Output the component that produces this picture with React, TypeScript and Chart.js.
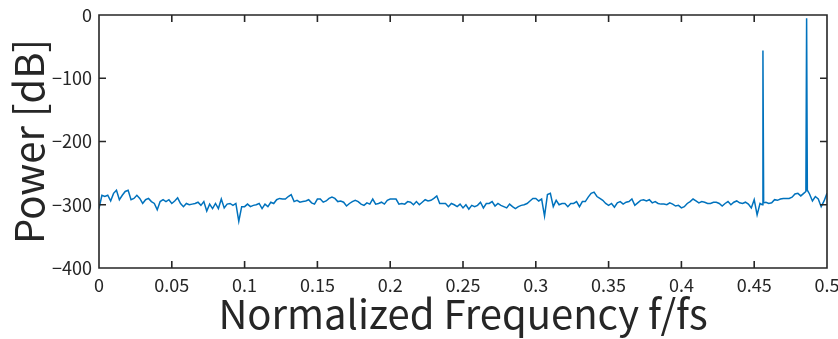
import React, { useEffect, useRef } from "react";
import { Chart, registerables } from "chart.js";

Chart.register(...registerables);

// Frequency grid step (normalized frequency)
const FREQ_STEP = 0.002;

// Power [dB], f = 0 ... 0.098
const powerA = [
  -306, -285, -287, -285, -294, -282, -277, -292, -285, -279,
  -277, -292, -290, -285, -290, -298, -292, -290, -295, -298,
  -308, -295, -292, -295, -292, -298, -294, -289, -298, -303,
  -298, -300, -299, -298, -296, -301, -295, -310, -299, -306,
  -298, -306, -291, -305, -299, -298, -301, -298, -326, -303,
];
// f = 0.100 ... 0.200
const powerB = [
  -303, -299, -303, -301, -300, -298, -306, -299, -303, -296,
  -298, -292, -290, -291, -291, -287, -284, -295, -293, -296,
  -295, -294, -292, -297, -299, -291, -291, -296, -294, -290,
  -288, -290, -295, -294, -296, -302, -298, -295, -293, -295,
  -299, -301, -297, -299, -291, -299, -298, -296, -299, -293,
  -291,
];
// f = 0.202 ... 0.300
const powerC = [
  -291, -291, -299, -298, -299, -295, -296, -300, -295, -300,
  -296, -292, -294, -293, -290, -286, -298, -298, -298, -303,
  -298, -300, -303, -299, -305, -300, -307, -301, -303, -301,
  -296, -305, -298, -298, -295, -302, -298, -301, -303, -305,
  -299, -303, -306, -303, -301, -300, -298, -294, -290, -290,
];
// f = 0.302 ... 0.400
const powerD = [
  -294, -291, -318, -284, -282, -303, -293, -300, -298, -298,
  -303, -298, -298, -295, -303, -295, -295, -288, -282, -280,
  -287, -290, -293, -298, -301, -298, -304, -297, -295, -299,
  -296, -295, -291, -301, -297, -293, -292, -294, -292, -297,
  -295, -298, -299, -299, -300, -297, -299, -302, -301, -305,
];
// f = 0.402 ... 0.500 (tones at 0.456 and 0.486)
const powerE = [
  -303, -298, -295, -291, -294, -297, -295, -296, -298, -298,
  -296, -296, -298, -302, -298, -295, -300, -296, -294, -297,
  -298, -296, -299, -305, -292, -316, -298, -56, -296, -298,
  -297, -292, -293, -291, -290, -290, -290, -288, -283, -282,
  -286, -282, -5, -283, -294, -287, -291, -303, -294, -282,
];

// Narrow base points on either side of the two tones
const shoulderFreq = [0.4555, 0.4565, 0.4855, 0.4865];
const shoulderPower = [-300, -297, -279, -277];

const xTickValues = [0, 0.05, 0.1, 0.15, 0.2, 0.25, 0.3, 0.35, 0.4, 0.45, 0.5];
const yTickValues = [0, -100, -200, -300, -400];

const AXIS_COLOR = "#262626";
const LINE_COLOR = "#0072BD";
const FONT = "'Noto Sans CJK JP', 'Noto Sans', sans-serif";

function buildPoints() {
  const all = [...powerA, ...powerB, ...powerC, ...powerD, ...powerE];
  const pts = all.map((v, i) => ({ x: Number((i * FREQ_STEP).toFixed(4)), y: v }));
  shoulderFreq.forEach((f, i) => pts.push({ x: f, y: shoulderPower[i] }));
  pts.sort((a, b) => a.x - b.x);
  return pts;
}

const boxPlugin = {
  id: "matlabBox",
  afterDatasetsDraw(chart: any) {
    const { ctx, chartArea, scales } = chart;
    const { left, right, top, bottom } = chartArea;
    const xs = scales.x;
    const ys = scales.y;
    const tl = 7;
    ctx.save();
    ctx.strokeStyle = AXIS_COLOR;
    ctx.lineWidth = 1.6;
    ctx.beginPath();
    ctx.rect(left, top, right - left, bottom - top);
    for (const v of xTickValues) {
      const px = xs.getPixelForValue(v);
      ctx.moveTo(px, bottom);
      ctx.lineTo(px, bottom - tl);
      ctx.moveTo(px, top);
      ctx.lineTo(px, top + tl);
    }
    for (const v of yTickValues) {
      const py = ys.getPixelForValue(v);
      ctx.moveTo(left, py);
      ctx.lineTo(left + tl, py);
      ctx.moveTo(right, py);
      ctx.lineTo(right - tl, py);
    }
    ctx.stroke();
    ctx.restore();
  },
};

export default function App() {
  const canvasRef = useRef<HTMLCanvasElement | null>(null);

  useEffect(() => {
    document.body.style.margin = "0";
    const canvas = canvasRef.current;
    if (!canvas) return;
    const chart = new Chart(canvas, {
      type: "line",
      data: {
        datasets: [
          {
            data: buildPoints(),
            borderColor: LINE_COLOR,
            borderWidth: 1.5,
            pointRadius: 0,
            tension: 0,
            fill: false,
          },
        ],
      },
      options: {
        responsive: false,
        animation: false,
        devicePixelRatio: 1,
        layout: { padding: { left: 0, top: 15, right: 11, bottom: 0 } },
        plugins: { legend: { display: false }, tooltip: { enabled: false } },
        scales: {
          x: {
            type: "linear",
            min: 0,
            max: 0.5,
            grid: { display: false, drawTicks: false },
            border: { display: false },
            ticks: {
              stepSize: 0.05,
              autoSkip: false,
              maxRotation: 0,
              padding: 6,
              color: AXIS_COLOR,
              font: { family: FONT, size: 18 },
              callback: (v: any) => String(Number(Number(v).toFixed(2))),
            },
            title: {
              display: true,
              text: "Normalized Frequency f/fs",
              color: AXIS_COLOR,
              font: { family: FONT, size: 40, lineHeight: 1 },
              padding: { top: 0, bottom: 5 },
            },
            afterFit: (scale: any) => {
              scale.height = 71;
              scale.paddingLeft = 0;
              scale.paddingRight = 0;
            },
          },
          y: {
            type: "linear",
            min: -400,
            max: 0,
            grid: { display: false, drawTicks: false },
            border: { display: false },
            ticks: {
              stepSize: 100,
              padding: 7,
              color: AXIS_COLOR,
              font: { family: FONT, size: 18 },
              callback: (v: any) => (Number(v) < 0 ? "\u2212" + Math.abs(Number(v)) : String(v)),
            },
            title: {
              display: true,
              text: "Power [dB]",
              color: AXIS_COLOR,
              font: { family: FONT, size: 40, lineHeight: 1 },
              padding: { top: 9, bottom: 0 },
            },
            afterFit: (scale: any) => {
              scale.width = 99;
              scale.paddingTop = 0;
              scale.paddingBottom = 0;
            },
          },
        },
      },
      plugins: [boxPlugin],
    });
    return () => chart.destroy();
  }, []);

  return (
    <div style={{ width: 838, height: 339, background: "#fff" }}>
      <canvas ref={canvasRef} width={838} height={339} style={{ display: "block" }} />
    </div>
  );
}
